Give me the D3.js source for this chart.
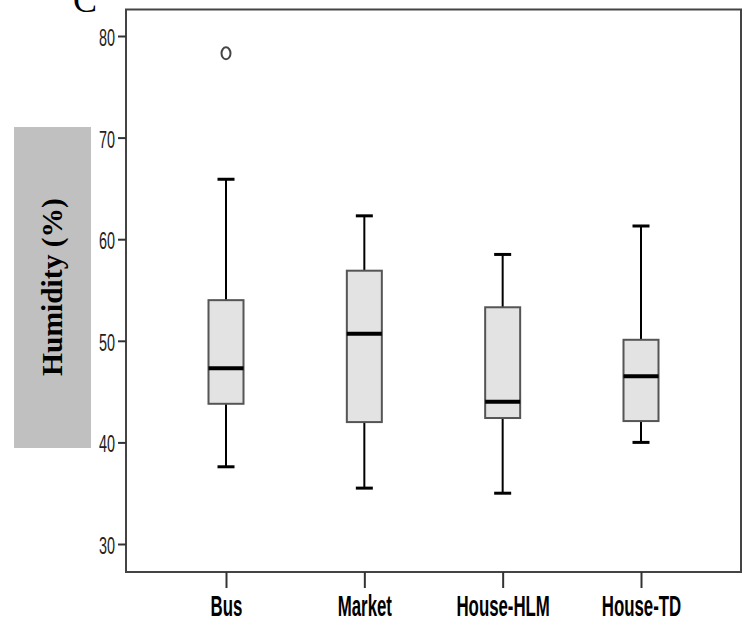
<!DOCTYPE html>
<html>
<head>
<meta charset="utf-8">
<script src="https://cdn.jsdelivr.net/npm/d3@7"></script>
<style>
html,body{margin:0;padding:0;background:#fff;}
svg{display:block;}
</style>
</head>
<body>
<svg id="chart" width="748" height="627"></svg>
<script>
const categories = ["Bus", "Market", "House-HLM", "House-TD"];
const whiskerLow  = [37.6, 35.5, 35.0, 40.0];
const q1          = [43.8, 42.0, 42.4, 42.1];
const median      = [47.3, 50.7, 44.0, 46.5];
const q3          = [54.0, 56.9, 53.3, 50.1];
const whiskerHigh = [65.9, 62.3, 58.5, 61.3];
const outliers    = [{cat: "Bus", value: 78.3}];
const yTicks      = [30, 40, 50, 60, 70, 80];
const yTitle      = "Humidity (%)";
const panelLabel  = "C";

const svg = d3.select("#chart");
const frame = {left: 126, right: 741, top: 9.5, bottom: 572};

const y = d3.scaleLinear().domain([30, 80]).range([544, 36]);
const x = d3.scalePoint().domain(categories).range([226, 641]);

const boxW = 35, capW = 17;

// y title box
svg.append("rect").attr("x", 14).attr("y", 127).attr("width", 77).attr("height", 321)
  .attr("fill", "#c0c0c0");
svg.append("text")
  .attr("transform", "translate(62,287) rotate(-90)")
  .attr("text-anchor", "middle")
  .attr("font-family", "Liberation Serif, Times New Roman, serif")
  .attr("font-weight", "bold")
  .attr("font-size", 29.5)
  .attr("fill", "#000")
  .text(yTitle);

// panel label (partly cropped at the top edge, as in the original figure)
svg.append("text").attr("x", 73).attr("y", 12)
  .attr("font-family", "Liberation Serif, Times New Roman, serif")
  .attr("font-size", 36).attr("fill", "#000").text(panelLabel);

// frame
svg.append("rect").attr("x", frame.left).attr("y", frame.top)
  .attr("width", frame.right - frame.left).attr("height", frame.bottom - frame.top)
  .attr("fill", "none").attr("stroke", "#444").attr("stroke-width", 2);

// y axis
const yAxis = d3.axisLeft(y).tickValues(yTicks).tickSize(8).tickPadding(3).tickFormat(d3.format("d"));
const gy = svg.append("g").attr("transform", `translate(${frame.left},0)`).call(yAxis);
gy.select(".domain").remove();
gy.selectAll(".tick line").attr("stroke", "#333").attr("stroke-width", 2);
gy.selectAll(".tick text")
  .attr("font-family", "Liberation Sans, Arial, sans-serif")
  .attr("font-size", 24)
  .attr("fill", "#222")
  .attr("dy", null)
  .attr("dominant-baseline", "central")
  .attr("x", null)
  .attr("text-anchor", "end")
  .attr("transform", "translate(-11,1) scale(0.6,1)");

// x axis
const xAxis = d3.axisBottom(x).tickSize(16).tickPadding(0);
const gx = svg.append("g").attr("transform", `translate(0,${frame.bottom})`).call(xAxis);
gx.select(".domain").remove();
gx.selectAll(".tick line").attr("stroke", "#333").attr("stroke-width", 2);
gx.selectAll(".tick text")
  .attr("font-family", "Liberation Sans, Arial, sans-serif")
  .attr("font-weight", "bold")
  .attr("font-size", 29)
  .attr("fill", "#000")
  .attr("y", null).attr("dy", null)
  .attr("transform", "translate(0,44) scale(0.58,1)");

// boxes
const data = categories.map((c, i) => ({
  cat: c, lo: whiskerLow[i], q1: q1[i], med: median[i], q3: q3[i], hi: whiskerHigh[i]
}));
const g = svg.append("g");
const box = g.selectAll("g.box").data(data).join("g").attr("class", "box");

box.append("line").attr("x1", d => x(d.cat)).attr("x2", d => x(d.cat))
  .attr("y1", d => y(d.hi)).attr("y2", d => y(d.q3))
  .attr("stroke", "#000").attr("stroke-width", 2);
box.append("line").attr("x1", d => x(d.cat)).attr("x2", d => x(d.cat))
  .attr("y1", d => y(d.q1)).attr("y2", d => y(d.lo))
  .attr("stroke", "#000").attr("stroke-width", 2);
box.append("line").attr("x1", d => x(d.cat) - capW / 2).attr("x2", d => x(d.cat) + capW / 2)
  .attr("y1", d => y(d.hi)).attr("y2", d => y(d.hi))
  .attr("stroke", "#000").attr("stroke-width", 3);
box.append("line").attr("x1", d => x(d.cat) - capW / 2).attr("x2", d => x(d.cat) + capW / 2)
  .attr("y1", d => y(d.lo)).attr("y2", d => y(d.lo))
  .attr("stroke", "#000").attr("stroke-width", 3);
box.append("rect").attr("x", d => x(d.cat) - boxW / 2).attr("width", boxW)
  .attr("y", d => y(d.q3)).attr("height", d => y(d.q1) - y(d.q3))
  .attr("fill", "#e3e3e3").attr("stroke", "#555").attr("stroke-width", 2);
box.append("line").attr("x1", d => x(d.cat) - boxW / 2).attr("x2", d => x(d.cat) + boxW / 2)
  .attr("y1", d => y(d.med)).attr("y2", d => y(d.med))
  .attr("stroke", "#000").attr("stroke-width", 4);

// outliers
g.selectAll("ellipse.out").data(outliers).join("ellipse").attr("class", "out")
  .attr("cx", d => x(d.cat)).attr("cy", d => y(d.value))
  .attr("rx", 4.5).attr("ry", 6)
  .attr("fill", "none").attr("stroke", "#444").attr("stroke-width", 2);
</script>
</body>
</html>
